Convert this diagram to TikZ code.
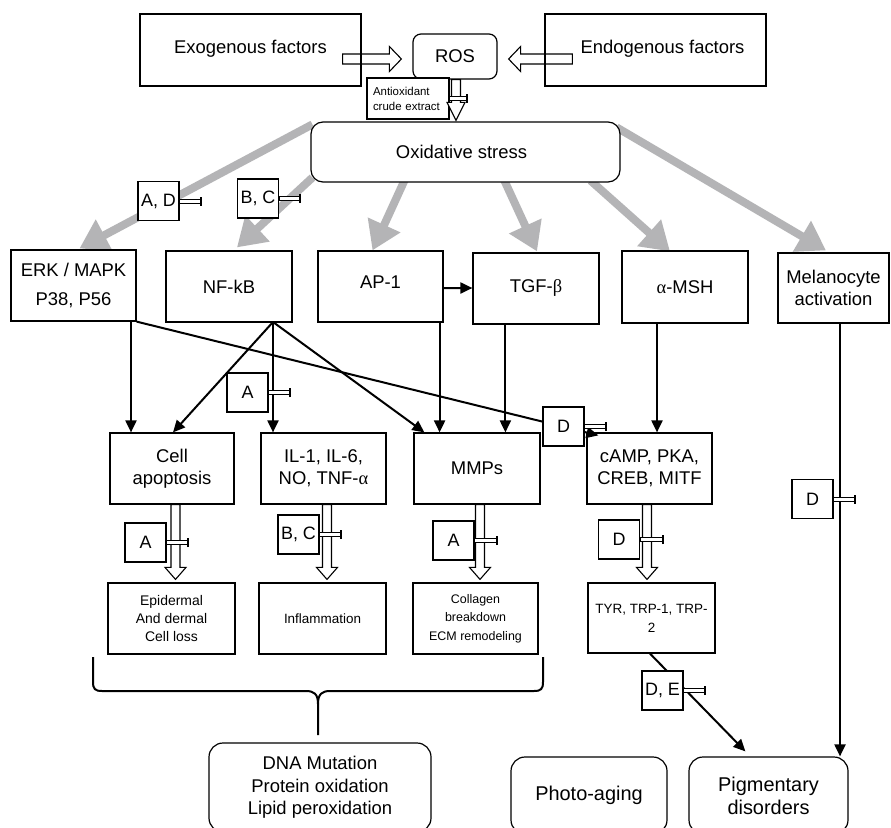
\documentclass[tikz,border=0pt]{standalone}
\usepackage{fontspec}
\setmainfont{Liberation Sans}
\newfontfamily\grk{Liberation Serif}
\usetikzlibrary{arrows.meta,calc}
\pgfdeclarelayer{back}
\pgfdeclarelayer{bg}
\pgfsetlayers{back,bg,main}
\definecolor{grayc}{RGB}{180,180,182}
\newcommand\fmain{\fontsize{18.5}{22}\selectfont}
\newcommand\fbig{\fontsize{20}{23}\selectfont}
\newcommand\flab{\fontsize{18}{22}\selectfont}
\newcommand\fmid{\fontsize{14}{18.5}\selectfont}
\newcommand\fsml{\fontsize{13.5}{19}\selectfont}
\newcommand\fcol{\fontsize{12.5}{18.5}\selectfont}
\newcommand\ftny{\fontsize{11.5}{15}\selectfont}
\newcommand\hollowV[5]{\path[hollow] let \p1=(#1), \p2=(#2) in (\x2-#3,\y1) -- (\x2-#3,\y2+#5) -- (\x2-#4,\y2+#5) -- (\x2,\y2) -- (\x2+#4,\y2+#5) -- (\x2+#3,\y2+#5) -- (\x2+#3,\y1) -- cycle;}
\newcommand\hollowR[5]{\path[hollow] let \p1=(#1), \p2=(#2) in (\x1,\y2-#3) -- (\x2-#5,\y2-#3) -- (\x2-#5,\y2-#4) -- (\x2,\y2) -- (\x2-#5,\y2+#4) -- (\x2-#5,\y2+#3) -- (\x1,\y2+#3) -- cycle;}
\newcommand\hollowL[5]{\path[hollow] let \p1=(#1), \p2=(#2) in (\x1,\y2-#3) -- (\x2+#5,\y2-#3) -- (\x2+#5,\y2-#4) -- (\x2,\y2) -- (\x2+#5,\y2+#4) -- (\x2+#5,\y2+#3) -- (\x1,\y2+#3) -- cycle;}
\newcommand\inhib[2]{%
  \path[inhb] let \p1=(#1.east) in (\x1,\y1-2bp) rectangle (\x1+#2,\y1+2bp);
  \draw[inhbar] let \p1=(#1.east) in (\x1+#2,\y1-4.5bp) -- (\x1+#2,\y1+4.5bp);}
\tikzset{
  bx/.style={draw, line width=1.2bp, fill=white, inner sep=0pt, align=center, font=\fmain},
  rbx/.style={bx, rounded corners=#1},
  lab/.style={draw, line width=1.2bp, fill=white, inner sep=0pt, minimum width=41bp, minimum height=39bp, font=\flab},
  hollow/.style={draw, line width=1.1bp, fill=white},
  blk/.style={line width=2bp, -{Triangle[length=12bp,width=11bp]}},
  grayarr/.style={draw=grayc, line width=8bp, -{Triangle[length=28bp,width=34bp]}},
  inhb/.style={draw, line width=0.9bp, fill=white},
  inhbar/.style={line width=2bp},
  bracep/.style={line width=2bp},
}
\begin{document}
\begin{tikzpicture}[x=1bp,y=-1bp]
\useasboundingbox (0,0) rectangle (891,828);
\begin{pgfonlayer}{back}\fill[white] (0,0) rectangle (891,828);\end{pgfonlayer}
\clip (0,0) rectangle (891,828);

% top row
\node[bx, fill=none, minimum width=221bp, minimum height=72bp] (exo) at (250.5,50) {\raisebox{6pt}{Exogenous factors}};
\node[bx, fill=none, minimum width=221bp, minimum height=72bp] (endo) at (655.5,50) {\raisebox{6pt}{\hspace*{14bp}Endogenous factors}};
\node[rbx=8bp, minimum width=84bp, minimum height=45bp] (ros) at (455,56.5) {ROS};
\node[bx, font=\ftny, align=left, text width=70bp, minimum width=82bp, minimum height=41bp] (antiox) at (408,98.5) {Antioxidant\\crude extract};
\node[rbx=12bp, minimum width=309bp, minimum height=60bp] (ox) at (465.5,152) {\hspace*{-8bp}Oxidative stress};

% middle row
\node[bx, minimum width=125bp, minimum height=71bp] (erk) at (73.5,285.5) {ERK / MAPK\\[7pt]P38, P56};
\node[bx, minimum width=126bp, minimum height=71bp] (nfkb) at (229,286.5) {NF-kB};
\node[bx, minimum width=125bp, minimum height=71bp] (ap1) at (380.5,286.5) {\raisebox{8pt}{AP-1}};
\node[bx, minimum width=126bp, minimum height=71bp] (tgf) at (536,288.5) {\raisebox{5pt}{TGF-{\grk β}}};
\node[bx, minimum width=126bp, minimum height=72bp] (msh) at (685,287) {{\grk α}-MSH};
\node[bx, minimum width=111bp, minimum height=70bp] (mel) at (833.5,288) {Melanocyte\\activation};

% third row
\node[bx, minimum width=124bp, minimum height=71bp] (apop) at (172,468.5) {Cell\\apoptosis};
\node[bx, minimum width=125bp, minimum height=71bp] (il) at (323.5,468.5) {IL-1, IL-6,\\NO, TNF-{\grk α}};
\node[bx, minimum width=126bp, minimum height=71bp] (mmp) at (477,468.5) {\raisebox{-3pt}{MMPs}};
\node[bx, minimum width=125bp, minimum height=71bp] (camp) at (649.5,468.5) {cAMP, PKA,\\CREB, MITF};

% fourth row
\node[bx, font=\fmid, minimum width=127bp, minimum height=71bp] (epid) at (171.5,618.5) {Epidermal\\And dermal\\Cell loss};
\node[bx, font=\fsml, minimum width=127bp, minimum height=71bp] (infl) at (322.5,618.5) {Inflammation};
\node[bx, font=\fcol, minimum width=125bp, minimum height=71bp] (coll) at (475.5,618.5) {Collagen\\breakdown\\ECM remodeling};
\node[bx, font=\fsml, minimum width=127bp, minimum height=70bp] (tyr) at (651.5,618) {TYR, TRP-1, TRP-\\2};

% bottom row
\node[rbx=14bp, font=\fontsize{18.5}{22.5}\selectfont, minimum width=222bp, minimum height=89bp] (dna) at (320,787.5) {\raisebox{-2pt}{\parbox{200bp}{\centering DNA Mutation\\Protein oxidation\\Lipid peroxidation}}};
\node[rbx=14bp, font=\fbig, minimum width=156bp, minimum height=77bp] (photo) at (589,795.5) {\raisebox{2pt}{Photo-aging}};
\node[rbx=14bp, font=\fbig, minimum width=159bp, minimum height=77bp] (pig) at (768.5,795.5) {\raisebox{3pt}{\parbox{140bp}{\centering Pigmentary\\disorders}}};

% background arrows
\begin{pgfonlayer}{bg}
\hollowR{$(exo.east)+(-19,9)$}{$(ros.west)+(-11,2.5)$}{5bp}{12.5bp}{12bp}
\hollowL{$(endo.west)+(28,9)$}{$(ros.east)+(11,2.5)$}{5bp}{12.5bp}{12bp}
\draw[grayarr] ($(ox.north west)+(2,3)$) -- ($(erk.north)+(6,-1)$);
\draw[grayarr] ($(ox.south west)+(2,-5)$) -- ($(nfkb.north)+(8,-3)$);
\draw[grayarr] ($(ox.south west)+(94,-2)$) -- ($(ap1.north)+(-8,0)$);
\draw[grayarr] ($(ox.south west)+(194,-2)$) -- ($(tgf.north)+(1,-1)$);
\draw[grayarr] ($(ox.south east)+(-30,-2)$) -- ($(msh.north)+(-15,1)$);
\draw[grayarr] ($(ox.north east)+(-4,6)$) -- ($(mel.north)+(-7.5,-2)$);
\end{pgfonlayer}

% hollow arrows
\hollowV{ros.south}{$(ros.south |- ox.north)+(1,-1)$}{4.5bp}{9bp}{18bp}
\hollowV{apop.south}{$(apop.south |- epid.north)+(3.5,-3)$}{4.5bp}{10.5bp}{12bp}
\hollowV{il.south}{$(il.south |- infl.north)+(3.5,-3)$}{4.5bp}{10.5bp}{12bp}
\hollowV{mmp.south}{$(mmp.south |- coll.north)+(3,-3)$}{4.5bp}{10.5bp}{12bp}
\hollowV{camp.south}{$(camp.south |- tyr.north)+(-2.5,-3)$}{4.5bp}{10.5bp}{12bp}

% black connectors
\coordinate (erkb) at (131,321);
\coordinate (nfb) at (273,322);
\coordinate (apb) at ($(ap1.south east)+(-4,0)$);
\coordinate (tgb) at ($(tgf.south west)+(33,0)$);
\coordinate (mshb) at ($(msh.south)+(-28,0)$);
\coordinate (melb) at ($(mel.south)+(6.5,0)$);
\draw[blk] (erkb) -- (erkb |- apop.north);
\draw[blk] (nfb) -- ($(apop.north)+(1,0)$);
\draw[blk] (nfb) -- (nfb |- il.north);
\draw[blk] (nfb) -- ($(mmp.north west)+(11,0)$);
\draw[blk] ($(ap1.east)+(0,1.5)$) -- ($(tgf.west)+(0,-0.5)$);
\draw[blk] (apb) -- (apb |- mmp.north);
\draw[blk] (tgb) -- (tgb |- mmp.north);
\draw[blk] (mshb) -- (mshb |- camp.north);
\draw[blk] (melb) -- (melb |- pig.north);
\draw[blk] (erk.south east) -- ($(camp.north west)+(12,3)$);
\draw[blk] ($(tyr.south)+(-1.5,0)$) -- ($(pig.north west)+(57,-5)$);

% brace
\draw[bracep] (93,657) -- (93,682) .. controls (93,689) and (95,691) .. (102,691) -- (306,691) .. controls (314,691) and (318,694) .. (318,704) -- (318,735);
\draw[bracep] (543,657) -- (543,682) .. controls (543,689) and (541,691) .. (534,691) -- (330,691) .. controls (322,691) and (318,694) .. (318,704);

% label boxes
\node[lab] (ad) at (158.5,201) {A, D};
\node[lab] (bc) at (258,198.5) {B, C};
\node[lab] (la1) at (247.5,392.5) {A};
\node[lab] (ld1) at (563.5,426.5) {D};
\node[lab] (la2) at (145.5,542.5) {A};
\node[lab] (lbc2) at (298.5,534.5) {B, C};
\node[lab] (la3) at (453.5,540.5) {A};
\node[lab] (ld2) at (619,539.5) {D};
\node[lab] (lde) at (662.5,690.5) {D, E};
\node[lab] (ld3) at (812.5,499) {D};

% inhibitors
\inhib{antiox}{17bp}
\inhib{ad}{21bp}
\inhib{bc}{21bp}
\inhib{la1}{21bp}
\inhib{ld1}{21bp}
\inhib{la2}{21bp}
\inhib{lbc2}{21bp}
\inhib{la3}{22bp}
\inhib{ld2}{23bp}
\inhib{lde}{21bp}
\inhib{ld3}{21bp}
\end{tikzpicture}
\end{document}
